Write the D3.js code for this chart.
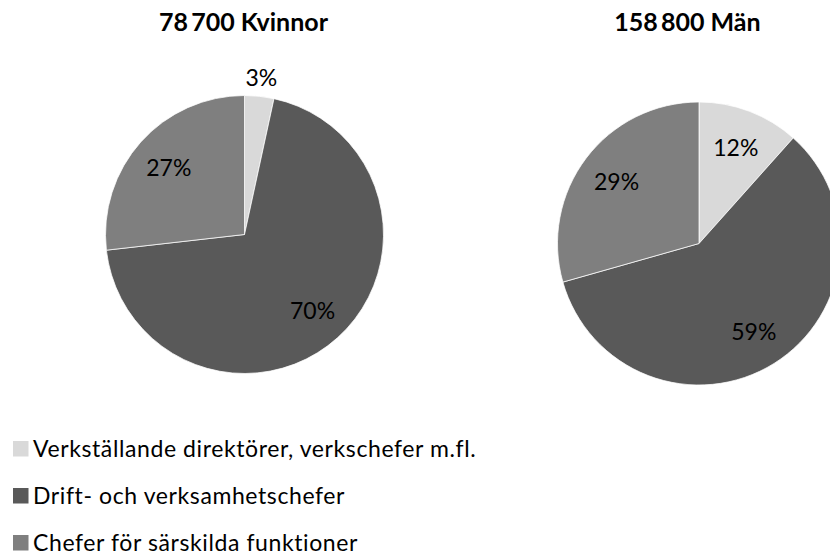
<!DOCTYPE html>
<meta charset="utf-8">
<style>

body {
  margin: 0;
  background: #fff;
}

svg {
  display: block;
  font-family: Lato, "Open Sans", sans-serif;
}

.title {
  font-size: 25px;
  font-weight: 700;
  fill: #000;
}

.pct {
  font-size: 23px;
  fill: #000;
}

.legend text {
  font-size: 23px;
  letter-spacing: 0.6px;
  fill: #000;
}

</style>
<body>
<script src="https://d3js.org/d3.v7.min.js"></script>
<script>

// categories, in the order the slices are drawn (clockwise from 12 o'clock)
var categories = [
  "Verkställande direktörer, verkschefer m.fl.",
  "Drift- och verksamhetschefer",
  "Chefer för särskilda funktioner"
];

var titles = ["78\u2009700 Kvinnor", "158\u2009800 Män"];

// shares in percent
var kvinnor = [3.4, 69.8, 26.8],
    man = [11.6, 59.0, 29.4];

var colors = ["#d9d9d9", "#595959", "#7f7f7f"];

var width = 830,
    height = 555;

// one entry per pie; layout only
var pies = [
  {title: titles[0], values: kvinnor, cx: 244.5, cy: 234.5, r: 139, tx: 243.5},
  {title: titles[1], values: man, cx: 699, cy: 243.5, r: 141.5, tx: 687.5}
];

var color = d3.scaleOrdinal().domain(categories).range(colors);
var fmt = d3.format(".0%");

var svg = d3.select("body").append("svg")
    .attr("width", width)
    .attr("height", height);

var pie = d3.pie()
    .sort(null)
    .value(function(d) { return d.value; });

pies.forEach(function(p) {
  var total = d3.sum(p.values);
  var data = p.values.map(function(v, i) { return {name: categories[i], value: v}; });

  var arc = d3.arc().innerRadius(0).outerRadius(p.r);
  var inner = d3.arc().innerRadius(p.r * 0.73).outerRadius(p.r * 0.73);
  var outer = d3.arc().innerRadius(p.r + 19).outerRadius(p.r + 19);

  svg.append("text")
      .attr("class", "title")
      .attr("x", p.tx)
      .attr("y", 31)
      .attr("text-anchor", "middle")
      .text(p.title);

  var g = svg.append("g")
      .attr("transform", "translate(" + p.cx + "," + p.cy + ")");

  var slices = pie(data);

  g.selectAll("path")
    .data(slices)
    .enter().append("path")
      .attr("d", arc)
      .attr("fill", function(d) { return color(d.data.name); })
      .attr("stroke", "#fff")
      .attr("stroke-width", 0.75);

  g.selectAll(".pct")
    .data(slices)
    .enter().append("text")
      .attr("class", "pct")
      .attr("transform", function(d) {
        var share = d.data.value / total;
        return "translate(" + (share < 0.05 ? outer : inner).centroid(d) + ")";
      })
      .attr("text-anchor", "middle")
      .attr("dy", "0.38em")
      .text(function(d) { return fmt(Math.round(d.data.value) / 100); });
});

// legend
var legend = svg.append("g")
    .attr("class", "legend")
  .selectAll("g")
  .data(categories)
  .enter().append("g")
    .attr("transform", function(d, i) { return "translate(13," + (441 + i * 47) + ")"; });

legend.append("rect")
    .attr("width", 15.5)
    .attr("height", 15.5)
    .attr("fill", function(d) { return color(d); });

legend.append("text")
    .attr("x", 20)
    .attr("y", 15.5)
    .text(function(d) { return d; });

</script>
